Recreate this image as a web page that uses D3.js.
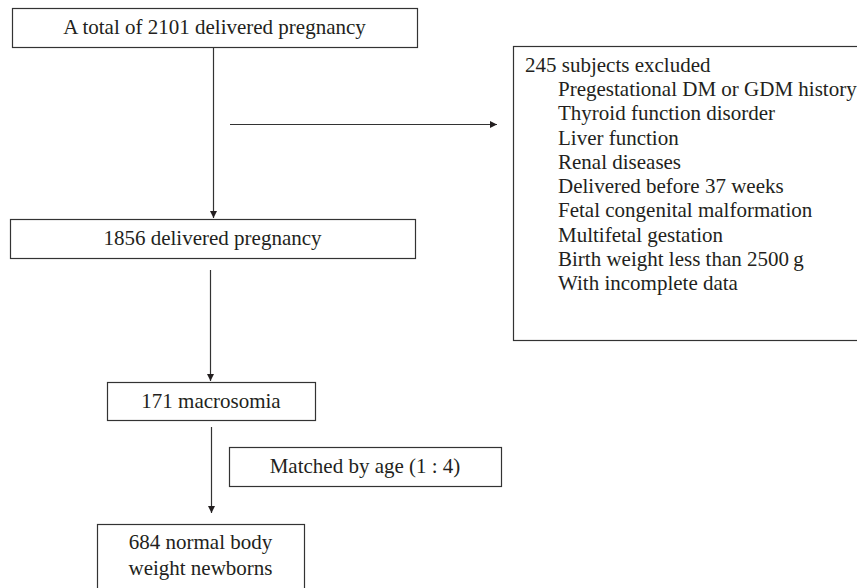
<!DOCTYPE html>
<html lang="en">
<head>
    <meta charset="UTF-8">
    <script src="https://cdnjs.cloudflare.com/ajax/libs/d3/7.8.5/d3.min.js"></script>
    <title>Flow of subjects</title>
    <style>
        body { margin: 0; background: #fff; overflow: hidden; }
        svg { display: block; }
        .box { fill: #fff; stroke: #333; stroke-width: 1.2px; }
        .link { stroke: #333; stroke-width: 1.2px; fill: none; }
        text { font-family: 'Liberation Serif', 'Times New Roman', serif; font-size: 21px; fill: #231f20; }
    </style>
</head>
<body>
<svg></svg>
<script>
    // text of each box (top to bottom)
    const totalLabel = ['A total of 2101 delivered pregnancy']
    const afterExclusionLabel = ['1856 delivered pregnancy']
    const macrosomiaLabel = ['171 macrosomia']
    const matchLabel = ['Matched by age (1 : 4)']
    const controlLabel = ['684 normal body', 'weight newborns']

    const excludedTitle = '245 subjects excluded'
    const excludedReasons = [
        'Pregestational DM or GDM history',
        'Thyroid function disorder',
        'Liver function',
        'Renal diseases',
        'Delivered before 37 weeks',
        'Fetal congenital malformation',
        'Multifetal gestation',
        'Birth weight less than 2500\u2009g',
        'With incomplete data'
    ]

    const w = 857, h = 588

    const svg = d3.select('svg')
        .attr('width', w)
        .attr('height', h)

    svg.append('defs').append('marker')
        .attr('id', 'arrow')
        .attr('viewBox', '0 0 10 10')
        .attr('refX', 10)
        .attr('refY', 5)
        .attr('markerWidth', 7)
        .attr('markerHeight', 7)
        .attr('markerUnits', 'userSpaceOnUse')
        .attr('orient', 'auto')
        .append('path')
        .attr('d', 'M0,0 L10,5 L0,10 Z')
        .attr('fill', '#231f20')

    // box layout: x, y, width, height
    const boxes = [
        {lines: totalLabel, x: 12, y: 8, w: 405, h: 39},
        {lines: afterExclusionLabel, x: 10, y: 219, w: 405, h: 39},
        {lines: macrosomiaLabel, x: 107, y: 382, w: 208, h: 38},
        {lines: matchLabel, x: 229, y: 447, w: 272, h: 39},
        {lines: controlLabel, x: 97, y: 524, w: 207, h: 80, lineH: 25.5, top: 25}
    ]

    const g = svg.selectAll('.node')
        .data(boxes)
        .enter()
        .append('g')
        .attr('class', 'node')

    g.append('rect')
        .attr('class', 'box')
        .attr('x', (d) => d.x + 0.5)
        .attr('y', (d) => d.y + 0.5)
        .attr('width', (d) => d.w)
        .attr('height', (d) => d.h)

    g.each(function(d) {
        const lh = d.lineH || 0
        const first = d.top != null ? d.y + d.top : d.y + d.h / 2 + 6.5
        d3.select(this).selectAll('text')
            .data(d.lines)
            .enter()
            .append('text')
            .attr('x', d.x + d.w / 2)
            .attr('y', (t, i) => first + i * lh)
            .attr('text-anchor', 'middle')
            .text((t) => t)
    })

    // exclusion box, runs off the right edge
    const ex = {x: 513, y: 46, w: 360, h: 294}
    svg.append('rect')
        .attr('class', 'box')
        .attr('x', ex.x + 0.5)
        .attr('y', ex.y + 0.5)
        .attr('width', ex.w)
        .attr('height', ex.h)

    svg.append('text')
        .attr('x', 525)
        .attr('y', 72)
        .text(excludedTitle)

    const rowY = d3.scaleLinear()
        .domain([0, excludedReasons.length - 1])
        .range([96, 290])

    svg.selectAll('.reason')
        .data(excludedReasons)
        .enter()
        .append('text')
        .attr('class', 'reason')
        .attr('x', 558)
        .attr('y', (d, i) => rowY(i))
        .text((d) => d)

    // arrows
    const links = [
        [[213.5, 47], [213.5, 218]],
        [[230, 124.5], [497, 124.5]],
        [[210.5, 270], [210.5, 381]],
        [[211.5, 427], [211.5, 513]]
    ]

    svg.selectAll('.link')
        .data(links)
        .enter()
        .append('path')
        .attr('class', 'link')
        .attr('d', d3.line())
        .attr('marker-end', 'url(#arrow)')
</script>
</body>
</html>
